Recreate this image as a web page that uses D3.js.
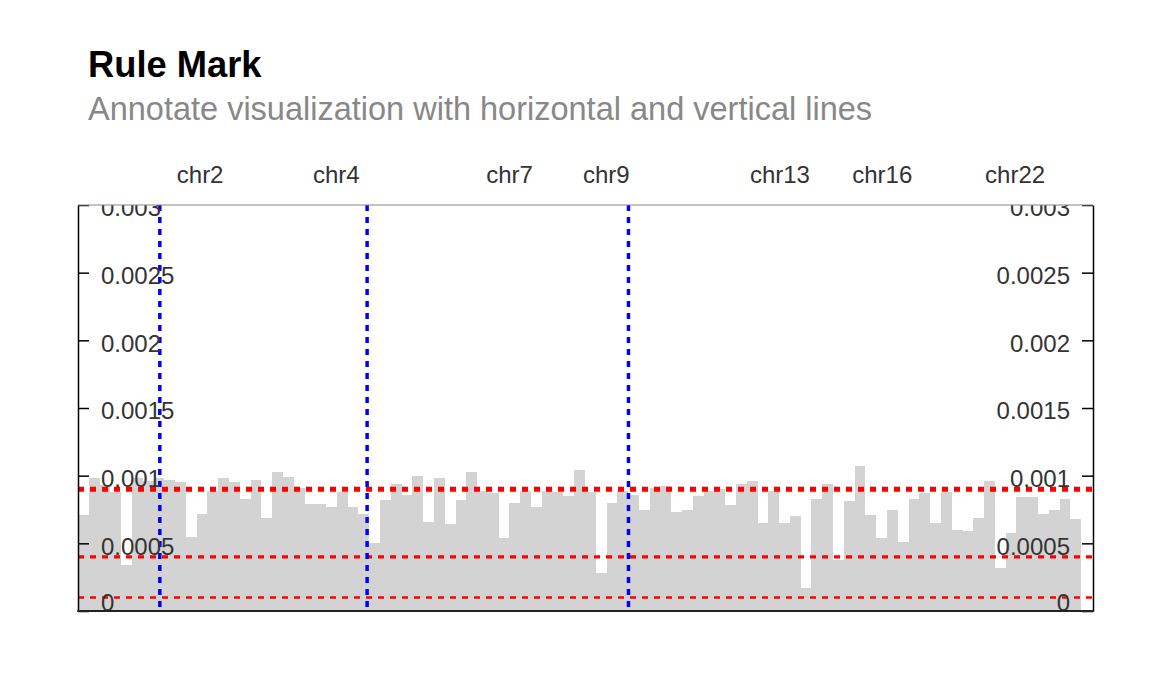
<!DOCTYPE html>
<html>
<head>
<meta charset="utf-8">
<script src="https://cdn.jsdelivr.net/npm/d3@7"></script>
<style>
  body { margin: 0; background: #fff; }
  svg { display: block; font-family: "Liberation Sans", Arial, Helvetica, sans-serif; }
</style>
</head>
<body>
<svg id="chart" width="1170" height="675"></svg>
<script>
// ---------------- DATA ----------------
const chromNames = ["chr1","chr2","chr3","chr4","chr5","chr6","chr7","chr8","chr9","chr10","chr11","chr12",
  "chr13","chr14","chr15","chr16","chr17","chr18","chr19","chr20","chr21","chr22","chrX","chrY"];
const chromSizes = [248956422,242193529,198295559,190214555,181538259,170805979,159345973,145138636,
  138394717,133797422,135086622,133275309,114364328,107043718,101991189,90338345,83257441,80373285,
  58617616,64444167,46709983,50818468,156040895,57227415];
const labeledChroms = ["chr2","chr4","chr7","chr9","chr13","chr16","chr22"];
const binSize = 32.82e6;
const peakValues = [
  7.1, 9.8, 9.3, 8.8, 3.4, 9.8, 9.6, 9.8, 9.7, 9.5, 5.5, 7.2, 8.9, 9.8, 9.5, 8.3,
  9.7, 6.9, 10.3, 9.9, 9.1, 7.9, 7.9, 7.7, 8.8, 7.7, 7.2, 5.0, 8.2, 9.4, 8.6, 10.0,
  6.6, 9.8, 6.4, 8.2, 10.3, 8.9, 8.7, 5.4, 8.0, 8.9, 7.7, 8.9, 8.8, 8.5, 10.4, 8.8,
  2.8, 8.0, 8.9, 8.6, 7.5, 9.1, 9.2, 7.3, 7.5, 8.5, 8.9, 9.0, 7.8, 9.4, 9.6, 6.5,
  8.9, 6.5, 7.0, 1.7, 8.3, 9.4, 3.8, 8.1, 10.7, 7.1, 5.4, 7.5, 5.1, 8.3, 8.7,
  6.5, 8.8, 6.0, 5.9, 6.9, 9.6, 3.2, 5.8, 8.4, 8.4, 7.2, 7.5, 8.3, 6.8
].map(v => v * 1e-4);
const yTicks = [0, 0.0005, 0.001, 0.0015, 0.002, 0.0025, 0.003];
const yTickLabels = ["0", "0.0005", "0.001", "0.0015", "0.002", "0.0025", "0.003"];
const hRuleValues = [0.0001, 0.0004, 0.0009];
const vRuleChroms = ["chr2", "chr5", "chr10"];

// ---------------- LAYOUT ----------------
const P = { left: 78, right: 1093, top: 205, bottom: 611 };
const svg = d3.select("#chart");

const chromStart = {};
const chromMid = {};
{
  let acc = 0;
  chromNames.forEach((c, i) => { chromStart[c] = acc; chromMid[c] = acc + chromSizes[i] / 2; acc += chromSizes[i]; });
}
const genomeLen = d3.sum(chromSizes);

const x = d3.scaleLinear().domain([0, genomeLen]).range([P.left, P.right]);
const y = d3.scaleLinear().domain([0, 0.003]).range([P.bottom, P.top]);
const ruleWidth = d3.scaleLinear().domain([0.0001, 0.0009]).range([2.4, 5]);

// Title
svg.append("text").attr("x", 88).attr("y", 77)
  .attr("font-size", 36.3).attr("font-weight", "bold").attr("fill", "#000")
  .text("Rule Mark");
svg.append("text").attr("x", 88).attr("y", 120)
  .attr("font-size", 32.5).attr("fill", "#888")
  .text("Annotate visualization with horizontal and vertical lines");

// Clip
const defs = svg.append("defs");
defs.append("clipPath").attr("id", "plotClip").append("rect")
  .attr("x", P.left).attr("y", P.top).attr("width", P.right - P.left).attr("height", P.bottom - P.top);
defs.append("clipPath").attr("id", "axisClip").append("rect")
  .attr("x", 0).attr("y", P.top).attr("width", 1170).attr("height", P.bottom - P.top + 2);

const plot = svg.append("g").attr("clip-path", "url(#plotClip)");

// Bars
plot.append("g").selectAll("rect").data(peakValues).join("rect")
  .attr("x", (d, i) => x(i * binSize))
  .attr("width", (d, i) => x((i + 1) * binSize) - x(i * binSize))
  .attr("y", d => y(d))
  .attr("height", d => y(0) - y(d))
  .attr("fill", "lightgray")
  .attr("shape-rendering", "crispEdges");

// Horizontal rules
plot.append("g").selectAll("line").data(hRuleValues).join("line")
  .attr("x1", P.left).attr("x2", P.right)
  .attr("y1", d => y(d)).attr("y2", d => y(d))
  .attr("stroke", "red")
  .attr("stroke-width", d => ruleWidth(d))
  .attr("stroke-dasharray", "6,6");

// Vertical rules
plot.append("g").selectAll("line").data(vRuleChroms).join("line")
  .attr("x1", d => x(chromStart[d])).attr("x2", d => x(chromStart[d]))
  .attr("y1", P.top).attr("y2", P.bottom)
  .attr("stroke", "blue")
  .attr("stroke-width", 3.5)
  .attr("stroke-dasharray", "6,6");

// Y axes
function styleAxis(g) {
  g.attr("font-family", null).attr("font-size", null);
  g.selectAll(".tick line").attr("stroke", "#000").attr("stroke-width", 1.5);
  g.selectAll(".tick text").attr("fill", "#333").attr("font-size", 24)
    .attr("dy", d => d === 0 ? "-0.04em" : "0.45em");
  g.select(".domain").attr("stroke", "#000").attr("stroke-width", 1.5);
}
const fmt = d => yTickLabels[yTicks.indexOf(d)];

svg.append("g").attr("clip-path", "url(#axisClip)")
  .append("g").attr("transform", `translate(${P.left},0)`)
  .call(d3.axisRight(y).tickValues(yTicks).tickFormat(fmt).tickSize(11).tickSizeOuter(0).tickPadding(12))
  .call(styleAxis);

svg.append("g").attr("clip-path", "url(#axisClip)")
  .append("g").attr("transform", `translate(${P.right},0)`)
  .call(d3.axisLeft(y).tickValues(yTicks).tickFormat(fmt).tickSize(11).tickSizeOuter(0).tickPadding(12))
  .call(styleAxis);

// Top & bottom borders
svg.append("line").attr("x1", P.left).attr("x2", P.right).attr("y1", P.top).attr("y2", P.top)
  .attr("stroke", "#888").attr("stroke-width", 1.2);
svg.append("line").attr("x1", P.left - 0.75).attr("x2", P.right + 0.75).attr("y1", P.bottom).attr("y2", P.bottom)
  .attr("stroke", "#222").attr("stroke-width", 2);

// Top genomic axis
const topAxis = svg.append("g").attr("transform", `translate(0,183)`)
  .call(d3.axisTop(x).tickValues(labeledChroms.map(c => chromMid[c]))
    .tickFormat((d, i) => labeledChroms[i]).tickSize(0).tickPadding(0));
topAxis.attr("font-family", null).attr("font-size", null);
topAxis.select(".domain").remove();
topAxis.selectAll(".tick text").attr("fill", "#333").attr("font-size", 24).attr("dy", 0);
</script>
</body>
</html>
